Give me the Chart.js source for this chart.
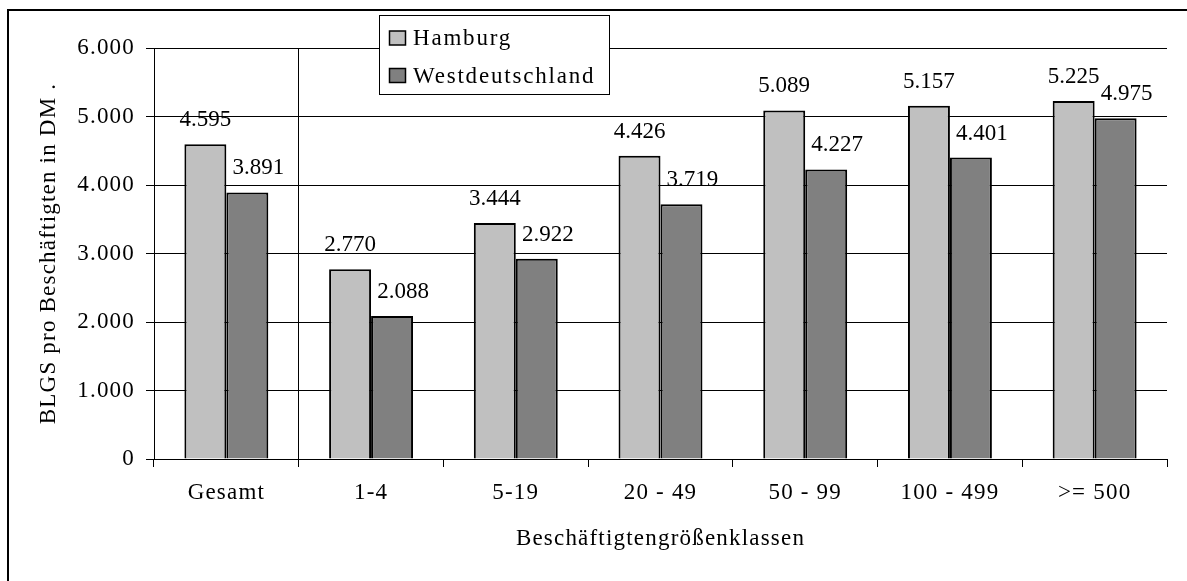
<!DOCTYPE html>
<html>
<head>
<meta charset="utf-8">
<script src="https://cdn.jsdelivr.net/npm/chart.js@4.4.1/dist/chart.umd.min.js"></script>
<style>
    html, body { margin: 0; padding: 0; background: #fff; }
    #wrap { width: 1187px; height: 581px; }
</style>
</head>
<body>
<div id="wrap"><canvas id="myChart" width="1187" height="581"></canvas></div>
<script>
var categories = ['Gesamt', '1-4', '5-19', '20 - 49', '50 - 99', '100 - 499', '>= 500'];
var hamburg = [4595, 2770, 3444, 4426, 5089, 5157, 5225];
var westdeutschland = [3891, 2088, 2922, 3719, 4227, 4401, 4975];
var yTicks = [0, 1000, 2000, 3000, 4000, 5000, 6000];
var seriesNames = ['Hamburg', 'Westdeutschland'];
var seriesColors = ['#c0c0c0', '#808080'];

var serif = "'Liberation Serif', 'Times New Roman', serif";

// 4595 -> "4.595"
function fmt(v) {
    return String(v).replace(/\B(?=(\d{3})+(?!\d))/g, '.');
}

// outer frame (only left and top edges are inside the picture)
var frame = {
    id: 'frame',
    beforeDraw: function (chart) {
        var c = chart.ctx;
        c.save();
        c.fillStyle = '#fff';
        c.fillRect(0, 0, chart.width, chart.height);
        c.strokeStyle = '#000';
        c.lineWidth = 2;
        c.beginPath();
        c.moveTo(8, chart.height + 5);
        c.lineTo(8, 10);
        c.lineTo(chart.width + 5, 10);
        c.stroke();
        c.restore();
    }
};

// axis texts in the original are a bit spaced out
var axisSpacing = {
    id: 'axisSpacing',
    beforeDraw: function (chart) {
        if ('letterSpacing' in chart.ctx) chart.ctx.letterSpacing = '1.2px';
    },
    beforeDatasetsDraw: function (chart) {
        if ('letterSpacing' in chart.ctx) chart.ctx.letterSpacing = '0px';
    }
};

// numbers above the bars
var valueLabels = {
    id: 'valueLabels',
    afterDatasetsDraw: function (chart) {
        var c = chart.ctx;
        c.save();
        c.font = '23px ' + serif;
        c.fillStyle = '#000';
        c.textAlign = 'center';
        c.textBaseline = 'alphabetic';
        chart.data.datasets.forEach(function (ds, i) {
            chart.getDatasetMeta(i).data.forEach(function (bar, j) {
                c.fillText(fmt(ds.data[j]), bar.x + (i === 1 ? 11 : 0), bar.y - 18);
            });
        });
        c.restore();
    }
};

// boxed legend overlapping the top of the plot
var boxLegend = {
    id: 'boxLegend',
    afterDraw: function (chart) {
        var c = chart.ctx;
        c.save();
        c.fillStyle = '#fff';
        c.fillRect(379.5, 15.5, 230, 79);
        c.strokeStyle = '#000';
        c.lineWidth = 1;
        c.strokeRect(379.5, 15.5, 230, 79);
        c.font = '23px ' + serif;
        c.textBaseline = 'alphabetic';
        c.textAlign = 'left';
        if ('letterSpacing' in c) c.letterSpacing = '1.8px';
        chart.data.datasets.forEach(function (ds, i) {
            var top = 31 + i * 37.5;
            c.fillStyle = ds.backgroundColor;
            c.fillRect(389.5, top, 16, 14);
            c.lineWidth = 1.5;
            c.strokeStyle = '#000';
            c.strokeRect(389.5, top, 16, 14);
            c.fillStyle = '#000';
            c.fillText(ds.label, 413, 45 + i * 38);
        });
        c.restore();
    }
};

var ctx = document.getElementById('myChart').getContext('2d');
var myChart = new Chart(ctx, {
    type: 'bar',
    data: {
        labels: categories,
        datasets: [{
            label: seriesNames[0],
            data: hamburg,
            backgroundColor: seriesColors[0],
            borderColor: '#000',
            borderWidth: 2
        }, {
            label: seriesNames[1],
            data: westdeutschland,
            backgroundColor: seriesColors[1],
            borderColor: '#000',
            borderWidth: 2
        }]
    },
    options: {
        responsive: false,
        animation: false,
        devicePixelRatio: 1,
        categoryPercentage: 0.58,
        barPercentage: 1,
        layout: { padding: { left: 0, top: 48, right: 20, bottom: 0 } },
        plugins: {
            legend: { display: false },
            tooltip: { enabled: false }
        },
        scales: {
            x: {
                grid: {
                    offset: true,
                    drawOnChartArea: true,
                    color: function (c) {
                        if (c.index === 1) return '#000';
                        if (c.index === categories.length) return '#808080';
                        return 'rgba(0,0,0,0)';
                    },
                    tickColor: '#000',
                    tickLength: 8,
                    lineWidth: 1
                },
                border: { color: '#000', width: 1 },
                ticks: {
                    color: '#000',
                    font: { family: serif, size: 23 },
                    padding: 12,
                    maxRotation: 0
                },
                title: {
                    display: true,
                    text: 'Beschäftigtengrößenklassen',
                    color: '#000',
                    font: { family: serif, size: 23 },
                    padding: { top: 0, bottom: 28 }
                },
                afterFit: function (scale) {
                    scale.height = 122;
                }
            },
            y: {
                min: 0,
                max: 6000,
                afterBuildTicks: function (scale) {
                    scale.ticks = yTicks.map(function (v) { return { value: v }; });
                },
                grid: {
                    color: '#000',
                    tickColor: '#000',
                    tickLength: 8,
                    lineWidth: 1
                },
                border: { color: '#000', width: 1 },
                ticks: {
                    color: '#000',
                    font: { family: serif, size: 23 },
                    padding: 11,
                    callback: function (v) { return fmt(v); }
                },
                title: {
                    display: true,
                    text: 'BLGS pro Beschäftigten in DM .',
                    color: '#000',
                    font: { family: serif, size: 23 },
                    padding: { top: 35, bottom: 0 }
                },
                afterFit: function (scale) {
                    scale.width = 154;
                }
            }
        }
    },
    plugins: [frame, axisSpacing, valueLabels, boxLegend]
});
</script>
</body>
</html>
